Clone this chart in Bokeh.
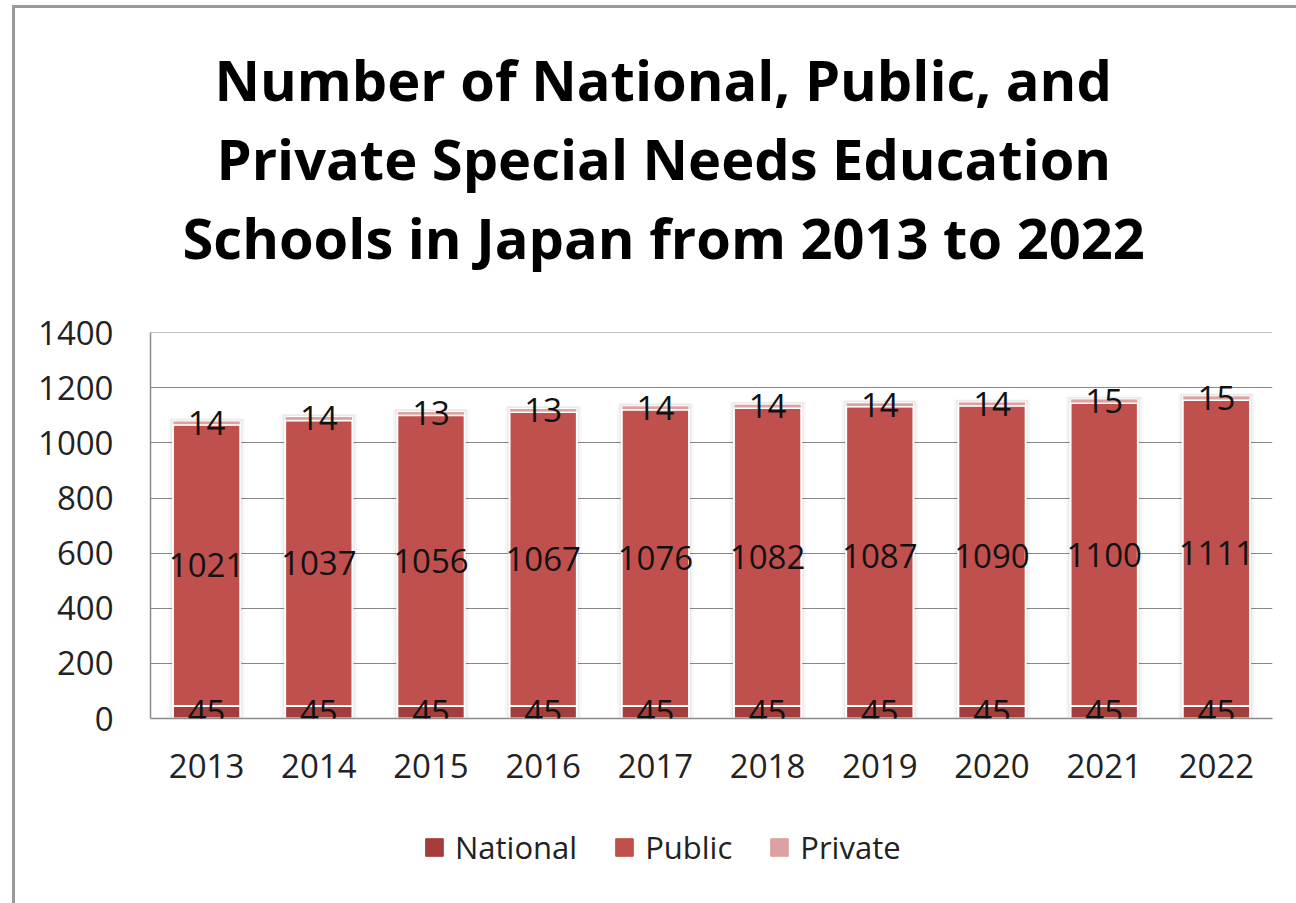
import numpy as np
from bokeh.plotting import figure
from bokeh.layouts import column
from bokeh.models import (ColumnDataSource, LabelSet, Legend, LegendItem, Title,
                          FactorRange, Range1d, SingleIntervalTicker)
from bokeh.core.properties import value
from bokeh.embed import file_html
from bokeh.resources import INLINE

# ---- data ----
years = ["2013", "2014", "2015", "2016", "2017", "2018", "2019", "2020", "2021", "2022"]
national = [45, 45, 45, 45, 45, 45, 45, 45, 45, 45]
public = [1021, 1037, 1056, 1067, 1076, 1082, 1087, 1090, 1100, 1111]
private = [14, 14, 13, 13, 14, 14, 14, 14, 15, 15]
series_names = ["National", "Public", "Private"]
title_lines = ["Number of National, Public, and",
               "Private Special Needs Education",
               "Schools in Japan from 2013 to 2022"]

colors = {"National": "#A33E3B", "Public": "#C0504D", "Private": "#DBA2A1"}
FONT = "Open Sans"
W = 1281

nat = np.array(national, dtype=float)
pub = np.array(public, dtype=float)
pri = np.array(private, dtype=float)

src = ColumnDataSource(dict(
    year=years,
    nat_top=nat,
    pub_bot=nat, pub_top=nat + pub,
    pri_bot=nat + pub, pri_top=nat + pub + pri,
    nat_mid=nat / 2, pub_mid=nat + pub / 2, pri_mid=nat + pub + pri / 2,
    nat_lbl=[str(v) for v in national],
    pub_lbl=[str(v) for v in public],
    pri_lbl=[str(v) for v in private],
    shadow_top=nat + pub + pri + 8,
))

seg_cols = {"National": (0, "nat_top", 2), "Public": ("pub_bot", "pub_top", 2),
            "Private": ("pri_bot", "pri_top", 1)}


def draw_stack(fig, edge=True):
    rs = {}
    for name in series_names:
        bot, top_, lw = seg_cols[name]
        rs[name] = fig.vbar(x="year", bottom=bot, top=top_, width=0.6, source=src,
                            fill_color=colors[name],
                            line_color="white" if edge else colors[name],
                            line_width=lw if edge else 1)
    return rs


p = figure(x_range=FactorRange(*years, range_padding=0),
           y_range=Range1d(0, 1401),
           width=W, height=800,
           min_border_left=135, min_border_right=24,
           min_border_top=324, min_border_bottom=90,
           output_backend="svg", toolbar_location=None,
           background_fill_color="white", border_fill_color="white")
p.outline_line_color = None

# subtle glow/shadow behind bars
p.vbar(x="year", bottom=0, top="shadow_top", width=0.68, source=src,
       fill_color="#000000", fill_alpha=0.035, line_color=None)
p.vbar(x="year", bottom=0, top="shadow_top", width=0.64, source=src,
       fill_color="#000000", fill_alpha=0.05, line_color=None)

draw_stack(p)

for ycol, tcol in [("nat_mid", "nat_lbl"), ("pub_mid", "pub_lbl"), ("pri_mid", "pri_lbl")]:
    p.add_layout(LabelSet(x="year", y=ycol, text=tcol, source=src,
                          text_align="center", text_baseline="middle",
                          text_font=value(FONT), text_font_size="33px",
                          text_color="#111111"))

# axes
p.yaxis.ticker = SingleIntervalTicker(interval=200)
for ax in (p.xaxis[0], p.yaxis[0]):
    ax.major_label_text_font = FONT
    ax.major_label_text_font_size = "33px"
    ax.major_label_text_color = "#222222"
    ax.axis_line_color = "#8c8c8c"
    ax.axis_line_width = 1.5
    ax.major_tick_line_color = None
    ax.minor_tick_line_color = None
p.yaxis.major_label_standoff = 31
p.xaxis.major_label_standoff = 29
p.xgrid.grid_line_color = None
p.ygrid.grid_line_color = "#888888"
p.ygrid.grid_line_width = 1.2

# title: three lines (nearest the plot added first); offsets centre each line on the chart
title_offsets = [64, 66, 32]
title_texts = [title_lines[0], title_lines[1], title_lines[2] + "\n"]
title_line_heights = [1.0, 1.0, 0.75]
for i in (2, 1, 0):
    p.add_layout(Title(text=title_texts[i], align="left", offset=title_offsets[i],
                       standoff=1, text_line_height=title_line_heights[i],
                       text_font=FONT, text_font_style="bold",
                       text_font_size="56px", text_color="#000000"), "above")

# legend strip: a second figure (frame aligned with the chart's) whose view range
# lies above the data, so its bar renderers only supply the legend swatches
leg_fig = figure(width=W, height=95, x_range=FactorRange(*years, range_padding=0),
                 y_range=Range1d(5000, 5001),
                 min_border=0, x_axis_location=None, y_axis_location=None,
                 output_backend="svg", toolbar_location=None,
                 outline_line_color=None, border_fill_color="white")
leg_fig.grid.visible = False
leg_rs = draw_stack(leg_fig, edge=False)
legend = Legend(items=[LegendItem(label=n, renderers=[leg_rs[n]]) for n in series_names],
                orientation="horizontal", location=(273, 35),
                glyph_width=22, glyph_height=22, label_standoff=10, spacing=36,
                padding=0, margin=0, border_line_color=None,
                background_fill_alpha=0,
                label_text_font=FONT, label_text_font_size="31px",
                label_text_color="#222222")
leg_fig.add_layout(legend, "center")

layout = column(p, leg_fig, spacing=0,
                styles={"margin-left": "12px", "margin-top": "5px",
                        "border-left": "3px solid #9a9a9a",
                        "border-top": "3px solid #9a9a9a"})

open("out.html", "w").write(file_html(layout, INLINE))
